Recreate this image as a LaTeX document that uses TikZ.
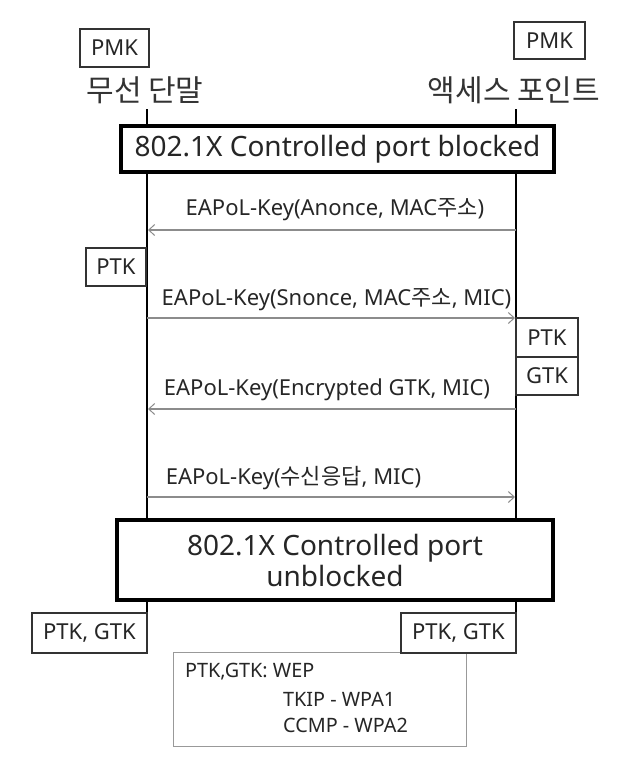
\documentclass[tikz,border=0pt]{standalone}
\usepackage{fontspec}
\setmainfont{Noto Sans}
\newfontfamily\kr{Noto Sans CJK KR}
\usetikzlibrary{arrows.meta}
\begin{document}
\begin{tikzpicture}[x=1pt,y=-1pt,
  keybox/.style={draw=black!80,line width=1.3pt,fill=white,inner sep=0pt,
    font=\fontsize{22}{26}\selectfont,text=black!85},
  portbox/.style={draw=black,line width=3.5pt,fill=white,inner sep=0pt,align=center,
    font=\fontsize{28}{31}\selectfont,text=black!85},
  title/.style={font=\kr\fontsize{30}{34}\selectfont,text=black!80,inner sep=0pt},
  life/.style={line width=2.2pt,black},
  msg/.style={draw=black!45,line width=1.1pt,-{Straight Barb[length=6pt,width=11pt,line width=1pt]}},
  lbl/.style={font=\fontsize{22}{26}\selectfont,text=black!85,inner sep=0pt},
  notelbl/.style={font=\fontsize{19.8}{24}\selectfont,text=black!85,inner sep=0pt},
  notebox/.style={draw=black!40,line width=1pt,fill=white,inner sep=0pt}]
\useasboundingbox (0,0) rectangle (634,766);
% lifeline coordinates
\coordinate (Ltop) at (147,109);
\coordinate (Rtop) at (516,109);
\coordinate (Lbot) at (147,653);
\coordinate (Rbot) at (516,653);
\draw[life] (Ltop) -- (Lbot);
\draw[life] (Rtop) -- (Rbot);
% titles and PMK
\node[keybox,minimum width=69pt,minimum height=38pt] (pmkL) at (114.5,48) {PMK};
\node[keybox,minimum width=71pt,minimum height=37pt] (pmkR) at (549.5,40.5) {PMK};
\node[title] (tL) at (145,90) {무선 단말};
\node[title] (tR) at (514,90) {액세스 포인트};
% top port box
\node[portbox,minimum width=433pt,minimum height=46pt] (blk) at (337.5,149) {802.1X Controlled port blocked};
% messages
\coordinate (m1R) at (516,230); \coordinate (m1L) at (148,230);
\coordinate (m2L) at (147,318); \coordinate (m2R) at (515,318);
\coordinate (m3R) at (516,409); \coordinate (m3L) at (148,409);
\coordinate (m4L) at (147,497); \coordinate (m4R) at (515,497);
\draw[msg] (m1R) -- (m1L);
\draw[msg] (m2L) -- (m2R);
\draw[msg] (m3R) -- (m3L);
\draw[msg] (m4L) -- (m4R);
\node[lbl] (l1) at (335,210) {EAPoL-Key(Anonce, MAC{\kr 주소})};
\node[lbl] (l2) at (336.5,300) {EAPoL-Key(Snonce, MAC{\kr 주소}, MIC)};
\node[lbl] (l3) at (327,390) {EAPoL-Key(Encrypted GTK, MIC)};
\node[lbl] (l4) at (293.5,478) {EAPoL-Key({\kr 수신응답}, MIC)};
% key boxes
\node[keybox,minimum width=60pt,minimum height=38pt] (ptkL) at (116,267) {PTK};
\node[keybox,minimum width=62pt,minimum height=39pt] (ptkR) at (547,337.5) {PTK};
\node[keybox,minimum width=62pt,minimum height=38pt] (gtkR) at (547,376) {GTK};
% bottom port box
\node[portbox,minimum width=436pt,minimum height=80pt] (ublk) at (335,560) {802.1X Controlled port\\unblocked};
% note
\node[notebox,minimum width=293pt,minimum height=94pt] (note) at (319.5,699) {};
\node[notelbl,anchor=west] (n1) at (185,672) {PTK,GTK: WEP};
\node[notelbl,anchor=west] (n2) at (283,699) {TKIP - WPA1};
\node[notelbl,anchor=west] (n3) at (283,725) {CCMP - WPA2};
% final keys
\node[keybox,minimum width=115pt,minimum height=40pt] (pgL) at (89.5,633) {PTK, GTK};
\node[keybox,minimum width=115pt,minimum height=40pt] (pgR) at (458.5,633) {PTK, GTK};
\end{tikzpicture}
\end{document}
